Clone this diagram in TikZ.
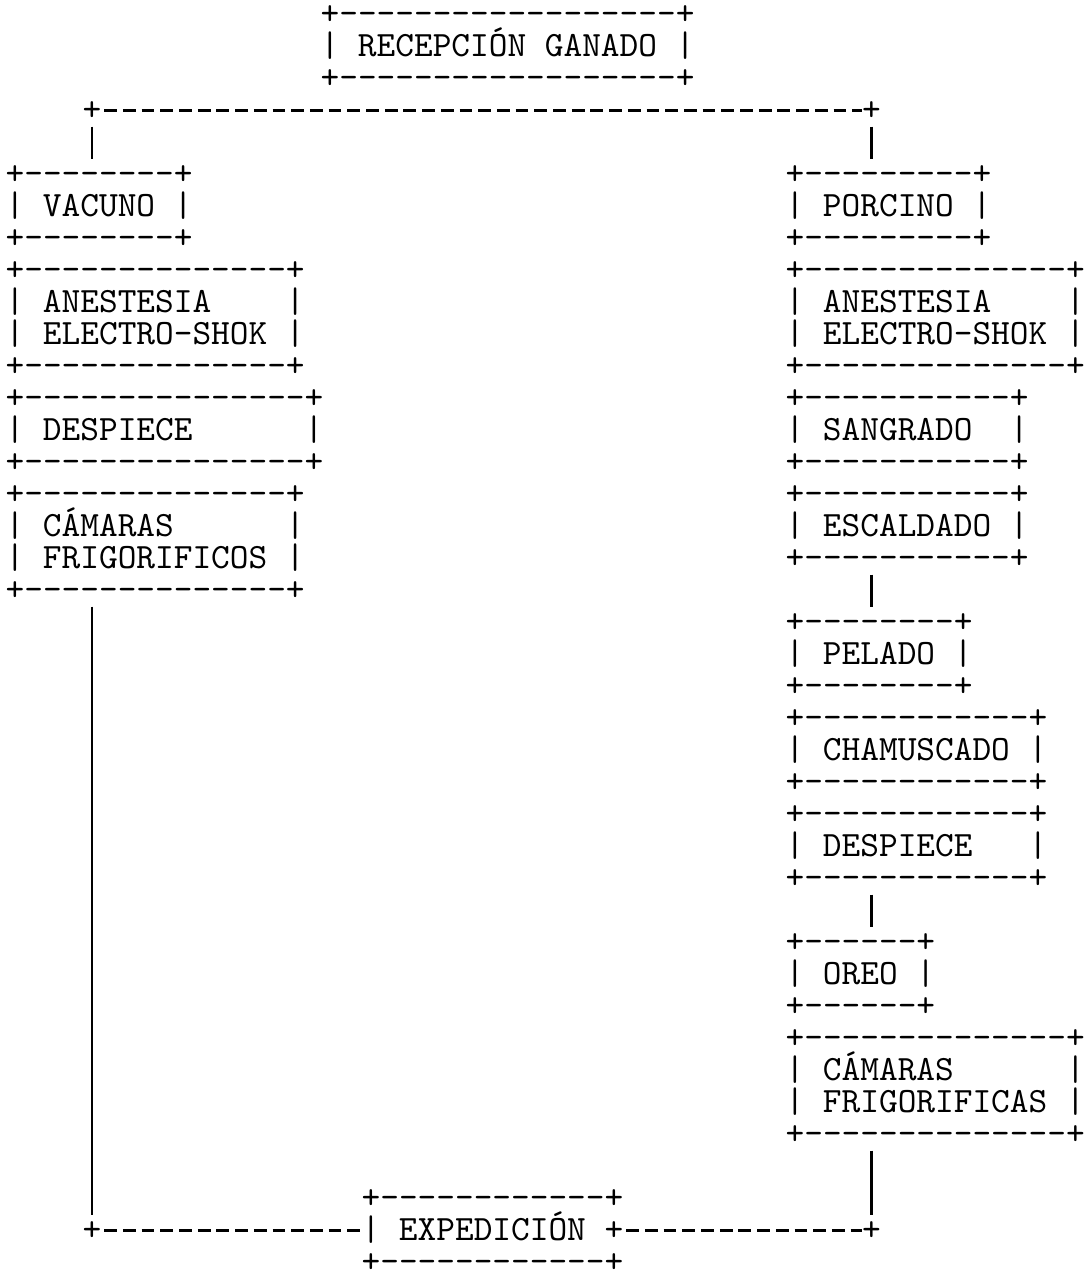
\documentclass[tikz,border=0pt]{standalone}
\usepackage{fontspec}
\setmonofont{lmmono10-regular.otf}

% puntal de fila: 16pt de alto, centrado en las mayusculas
\newcommand{\rs}{\rule[-3pt]{0pt}{16pt}}
\newcommand{\asciifont}{\ttfamily\fontsize{17.8}{16}\selectfont\lineskiplimit=-20pt\relax}

\begin{document}
\begin{tikzpicture}[x=0.5pt, y=-0.5pt,
    caja/.style={font=\asciifont, align=left, inner sep=0pt, outer sep=0pt, anchor=north west},
    cruce/.style={font=\asciifont, inner sep=0pt, outer sep=0pt},
    vlinea/.style={line width=1.1pt},
    hlinea/.style={line width=1.1pt, dash pattern=on 6.4pt off 2.95pt, dash phase=7.875pt}]

\useasboundingbox (0,0) rectangle (1085,1271);

% === Recepción ===
\node[caja] (recepcion) at (320.65, -1.5)
    {\rs+------------------+\\\rs|~RECEPCIÓN GANADO~|\\\rs+------------------+};

% Cruces
\node[cruce] (jvac) at (92, 110.5) {\rs+};
\node[cruce] (jpor) at (871.5, 110.5) {\rs+};
\node[cruce] (jexl) at (92, 1230.5) {\rs+};
\node[cruce] (jexr) at (871.5, 1230.5) {\rs+};

% === Vacuno ===
\node[caja] (vacuno) at (5.65, 158.5)
    {\rs+--------+\\\rs|~VACUNO~|\\\rs+--------+};
\node[caja] (anestesiaV) at (5.65, 254.5)
    {\rs+--------------+\\\rs|~ANESTESIA~~~~|\\\rs|~ELECTRO-SHOK~|\\\rs+--------------+};
\node[caja] (despieceV) at (5.65, 382.5)
    {\rs+---------------+\\\rs|~DESPIECE~~~~~~|\\\rs+---------------+};
\node[caja] (camarasV) at (5.65, 478.5)
    {\rs+--------------+\\\rs|~CÁMARAS~~~~~~|\\\rs|~FRIGORIFICOS~|\\\rs+--------------+};

% === Porcino ===
\node[caja] (porcino) at (785.65, 158.5)
    {\rs+---------+\\\rs|~PORCINO~|\\\rs+---------+};
\node[caja] (anestesiaP) at (785.65, 254.5)
    {\rs+--------------+\\\rs|~ANESTESIA~~~~|\\\rs|~ELECTRO-SHOK~|\\\rs+--------------+};
\node[caja] (sangrado) at (785.65, 382.5)
    {\rs+-----------+\\\rs|~SANGRADO~~|\\\rs+-----------+};
\node[caja] (escaldado) at (785.65, 478.5)
    {\rs+-----------+\\\rs|~ESCALDADO~|\\\rs+-----------+};
\node[caja] (pelado) at (785.65, 606.5)
    {\rs+--------+\\\rs|~PELADO~|\\\rs+--------+};
\node[caja] (chamuscado) at (785.65, 702.5)
    {\rs+------------+\\\rs|~CHAMUSCADO~|\\\rs+------------+};
\node[caja] (despieceP) at (785.65, 798.5)
    {\rs+------------+\\\rs|~DESPIECE~~~|\\\rs+------------+};
\node[caja] (oreo) at (785.65, 926.5)
    {\rs+------+\\\rs|~OREO~|\\\rs+------+};
\node[caja] (camarasP) at (785.65, 1022.5)
    {\rs+--------------+\\\rs|~CÁMARAS~~~~~~|\\\rs|~FRIGORIFICAS~|\\\rs+--------------+};

% === Expedición ===
\node[caja] (expedicion) at (361.65, 1182.5)
    {\rs+------------+\\\rs|~EXPEDICIÓN~+\\\rs+------------+};

% Conexiones
\draw[hlinea] (jvac.east) -- (jpor.west);
\draw[vlinea] (jvac.south) -- (jvac |- vacuno.north);
\draw[vlinea] (jpor.south) -- (jpor |- porcino.north);
\draw[vlinea] (escaldado.south -| jpor) -- (pelado.north -| jpor);
\draw[vlinea] (despieceP.south -| jpor) -- (oreo.north -| jpor);
\draw[vlinea] (camarasP.south -| jexr) -- (jexr.north);
\draw[vlinea] (camarasV.south -| jexl) -- (jexl.north);
\draw[hlinea] (jexl.east) -- (expedicion.west);
\draw[hlinea] (expedicion.east) -- (jexr.west);

\end{tikzpicture}
\end{document}
